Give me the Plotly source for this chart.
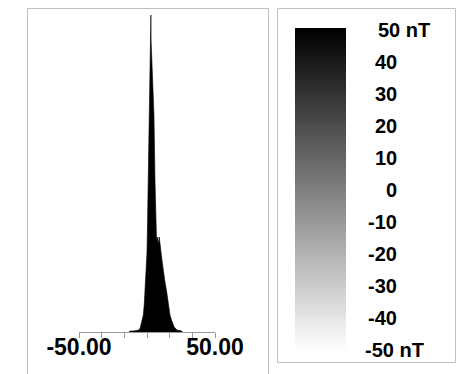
import plotly.graph_objects as go

# Histogram of field values (nT)
hist_x = [-13, -12.5, -10, -8, -6, -5, -4, -3.5, -2.7, -2, -1.5, -0.8, 0, 0.3, 0.8,
          1.5, 2.0, 2.4, 2.7, 2.85, 3.0, 3.5, 4.4, 5.1, 5.9, 6.4, 7.0, 7.6, 8.3, 9.0,
          9.6, 10.3, 11, 12, 13, 14.5, 16, 16.9, 18, 19.1, 20, 22, 24, 25.5, 26]
hist_y = [0, 1, 1, 1.5, 2, 4, 9, 12, 17, 28, 40, 58, 80, 102, 150,
          217, 265, 289, 295, 317, 292, 275, 240, 217, 150, 100, 92, 95, 88, 95,
          90, 80, 72, 60, 52, 40, 25, 17, 12, 9, 5, 2, 1.5, 1, 0]

x_tickvals = [-50, -33.33, -16.67, 0, 16.67, 33.33, 50]
x_ticktext = ["<b>-50.00</b>", "", "", "", "", "", "<b>50.00</b>"]

# Color scale legend
cbar_levels = list(range(-50, 51))
cbar_labels = [50, 40, 30, 20, 10, 0, -10, -20, -30, -40, -50]
cbar_texts = ["50 nT", "40", "30", "20", "10", "0", "-10", "-20", "-30", "-40", "-50 nT"]

W, H = 471, 374
OFF = 8  # page body margin offset compensation


def px(x):
    return (x - OFF) / W


def py(y):
    return (H - (y - OFF)) / H


fig = go.Figure()
fig.add_trace(go.Scatter(
    x=hist_x, y=hist_y, mode="lines", fill="tozeroy",
    fillcolor="black", line=dict(color="black", width=0.6),
    hoverinfo="skip", showlegend=False, xaxis="x", yaxis="y"))

fig.add_trace(go.Heatmap(
    x=[0], y=cbar_levels, z=[[v] for v in cbar_levels],
    colorscale=[[0, "#ffffff"], [1, "#000000"]], showscale=False,
    xaxis="x2", yaxis="y2", hoverinfo="skip"))

font_family = "Liberation Sans, Arial, sans-serif"

fig.update_layout(
    template="none",
    width=W, height=H, margin=dict(l=0, r=0, t=0, b=0, pad=0), autosize=False,
    paper_bgcolor="white", plot_bgcolor="rgba(0,0,0,0)",
    font=dict(family=font_family, color="black"),
    xaxis=dict(domain=[px(79), px(215)], range=[-50, 50], automargin=False,
               tickvals=x_tickvals, ticktext=x_ticktext,
               ticks="outside", ticklen=5, tickcolor="#999999", tickwidth=1,
               showline=True, linecolor="#999999", linewidth=1,
               showgrid=False, zeroline=False, ticklabelstandoff=-11,
               tickfont=dict(size=23, family=font_family, color="black"),
               anchor="y"),
    yaxis=dict(domain=[py(332), py(15)], range=[0, 317],
               visible=False, showgrid=False, zeroline=False, automargin=False),
    xaxis2=dict(domain=[px(295), px(346)], range=[-0.5, 0.5], visible=False,
                anchor="y2", automargin=False),
    yaxis2=dict(domain=[py(352), py(28)], range=[-50.5, 50.5],
                visible=False, anchor="x2", automargin=False),
)

# Panel frames
fig.add_shape(type="rect", xref="paper", yref="paper",
              x0=px(27.5), x1=px(268.5), y0=-0.1, y1=py(8.5),
              line=dict(color="#c0c0c0", width=1), layer="below")
fig.add_shape(type="rect", xref="paper", yref="paper",
              x0=px(277.5), x1=px(455.5), y0=py(362.5), y1=py(8.5),
              line=dict(color="#c0c0c0", width=1), layer="below")

# Colour scale labels
for v, t in zip(cbar_labels, cbar_texts):
    if "nT" in t:
        xpos = 376 if v > 0 else 363
        fig.add_annotation(x=px(xpos), xref="paper", y=v, yref="y2",
                           text="<b>%s</b>" % t, showarrow=False,
                           xanchor="left", yanchor="middle",
                           font=dict(size=20, family=font_family, color="black"))
    else:
        fig.add_annotation(x=px(399), xref="paper", y=v, yref="y2",
                           text="<b>%s</b>" % t, showarrow=False,
                           xanchor="right", yanchor="middle",
                           font=dict(size=20, family=font_family, color="black"))

fig.write_html("out.html")
